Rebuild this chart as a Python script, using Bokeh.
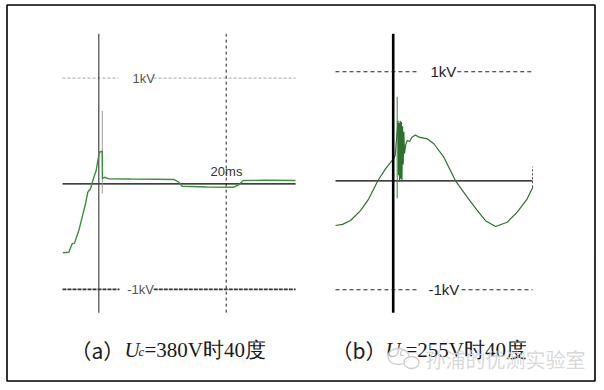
from bokeh.plotting import figure
from bokeh.models import Range1d
from bokeh.core.properties import value
from bokeh.embed import file_html
from bokeh.resources import INLINE

# ---------------- data (time in ms, voltage in kV) ----------------
# panel (a): Uc = 380 V, 40 deg
a_t = [-5.65, -4.71, -4.18, -3.81, -3.14, -2.61, -2.09, -1.73, -1.30, -0.78,
       -0.41, -0.16, 0.11, 0.53, 0.58, 0.89, 1.57, 5.0, 9.0, 11.77, 12.56,
       13.09, 17.0, 21.19, 21.98, 22.67, 26.0, 30.88]
a_v = [-0.653, -0.648, -0.568, -0.562, -0.442, -0.316, -0.189, -0.080, -0.047, 0.062,
       0.126, 0.220, 0.299, 0.309, 0.050, 0.062, 0.047, 0.045, 0.043, 0.041, 0.015,
       -0.023, -0.030, -0.032, -0.009, 0.031, 0.033, 0.031]
a_spike_t = [0.55, 0.55]
a_spike_v = [-0.09, 0.69]

# panel (b): Uc = 255 V, 40 deg
b_t = [-7.40, -6.5, -5.47, -4.19, -3.13, -1.97, -0.99, 0.0, 0.25, 0.62, 0.68,
       0.75, 0.82, 0.90, 0.98, 1.05, 1.12, 1.20, 1.28, 1.36, 1.45, 1.60, 1.79,
       2.10, 2.40, 2.86, 3.30, 4.36, 5.21, 6.49, 7.99, 9.49, 10.77, 11.83,
       13.12, 14.62, 15.90, 17.18, 17.90]
b_v = [-0.41, -0.40, -0.364, -0.273, -0.165, 0.0, 0.11, 0.20, 0.23, 0.55, 0.05,
       0.53, -0.01, 0.55, 0.02, 0.54, 0.0, 0.50, 0.15, 0.45, 0.25, 0.33, 0.37,
       0.36, 0.40, 0.42, 0.40, 0.385, 0.34, 0.217, 0.0, -0.15, -0.272, -0.366,
       -0.419, -0.38, -0.288, -0.165, -0.059]
b_spike_t = [0.51, 0.51]
b_spike_v = [-0.16, 0.77]

ref_levels = [1.0, -1.0]
ref_labels = ["1kV", "-1kV"]
a_marker_ms = 20.0
a_marker_label = "20ms"
b_cursor_ms = 17.86
b_cursor_v = [-0.06, 0.13]

caption_a = ["（a）", "U", "c", "=380V时40度"]
caption_b = ["（b）", "U", "c", "=255V时40度"]
watermark = "孙浦的优测实验室"

# ---------------- layout ----------------
W, H, OFF = 604, 390, 0
p = figure(width=W, height=H, output_backend="svg", toolbar_location=None,
           x_range=Range1d(OFF, OFF + W), y_range=Range1d(OFF + H, OFF),
           x_axis_location=None, y_axis_location=None, min_border=0)
p.grid.visible = False
p.outline_line_color = None
p.background_fill_color = "white"
p.border_fill_color = "white"


def add_panel(name, x0, px_ms, y0, px_kv):
    p.extra_x_ranges["t" + name] = Range1d((OFF - x0) / px_ms, (OFF + W - x0) / px_ms)
    p.extra_y_ranges["v" + name] = Range1d((y0 - (OFF + H)) / px_kv, (y0 - OFF) / px_kv)
    return dict(x_range_name="t" + name, y_range_name="v" + name)


A = add_panel("a", 98.3, 6.37, 183.3, 105.6)
B = add_panel("b", 392.7, 7.8, 180.3, 109.0)

a_win = (-5.7, 30.9)
b_win = (-7.4, 17.86)
a_vext = [-1.22, 1.42]
b_vext = [-1.21, 1.35]

# ---- panel a ----
a_gaps = [(3.09, 8.59), (3.25, 8.63)]
a_label_x = [5.29, 4.46]
a_ref_style = [dict(line_color="#b8b8b8", line_dash="3 2", line_width=1.2),
               dict(line_color="#333333", line_dash="4 1", line_width=1.8)]
for lvl, (g0, g1), st in zip(ref_levels, a_gaps, a_ref_style):
    p.multi_line(xs=[[a_win[0], g0], [g1, a_win[1]]], ys=[[lvl, lvl], [lvl, lvl]], **st, **A)
p.text(x=a_label_x, y=ref_levels, text=ref_labels, text_font=value("Liberation Sans"),
       text_font_size="13px", text_baseline="middle", text_align="left",
       text_color="#555555", **A)
p.line([a_marker_ms, a_marker_ms], a_vext, line_color="#222222", line_dash="3 3", line_width=1, **A)
p.text(x=[a_marker_ms - 2.45], y=[0.116], text=[a_marker_label], text_font=value("Liberation Sans"),
       text_font_size="13px", text_baseline="middle", text_align="left", text_color="#333333", **A)
p.line(list(a_win), [0, 0], line_color="black", line_width=1.3, **A)
p.line([0, 0], a_vext, line_color="#444444", line_width=1.2, **A)
p.line(a_spike_t, a_spike_v, line_color="#9a9a9a", line_width=1, **A)
p.line(a_t, a_v, line_color="#3d8f3d", line_width=1.4, **A)

# ---- panel b ----
b_gaps = [(3.08, 8.21), (3.08, 8.76)]
b_label_x = [4.78, 4.53]
for lvl, (g0, g1) in zip(ref_levels, b_gaps):
    p.multi_line(xs=[[b_win[0], g0], [g1, b_win[1]]], ys=[[lvl, lvl], [lvl, lvl]],
                 line_color="#222222", line_dash="4 3", line_width=1.1, **B)
p.text(x=b_label_x, y=ref_levels, text=ref_labels, text_font=value("Liberation Sans"),
       text_font_size="15px", text_baseline="middle", text_align="left",
       text_color="#222222", **B)
p.line(list(b_win), [0, 0], line_color="black", line_width=1.3, **B)
p.line([b_cursor_ms, b_cursor_ms], b_cursor_v, line_color="#444444", line_dash="2 2", line_width=1, **B)
p.line(b_spike_t, b_spike_v, line_color="#2a8a2a", line_width=1, **B)
p.line(b_t, b_v, line_color="#2f6f2f", line_width=1.2, **B)
p.line([0, 0], b_vext, line_color="black", line_width=2.6, **B)

# ---- captions ----
CAP_Y = 349
for cap, x_par, x_u in ((caption_a, 70, 124), (caption_b, 331, 385)):
    p.text(x=[x_par], y=[CAP_Y], text=[cap[0]], text_font=value("Noto Sans CJK SC"),
           text_font_size="21px", text_baseline="alphabetic", text_color="#1a1a1a")
    p.text(x=[x_u], y=[CAP_Y], text=[cap[1]], text_font=value("Liberation Serif"),
           text_font_style="italic", text_font_size="21px", text_baseline="alphabetic",
           text_color="#1a1a1a")
    p.text(x=[x_u + 14], y=[CAP_Y + 2], text=[cap[2]], text_font=value("Liberation Serif"),
           text_font_style="italic", text_font_size="13px", text_baseline="alphabetic",
           text_color="#1a1a1a")
    p.text(x=[x_u + 20], y=[CAP_Y], text=[cap[3]], text_font=value("Liberation Serif"),
           text_font_size="21px", text_baseline="alphabetic", text_color="#1a1a1a")

# ---- watermark ----
p.ellipse(x=[398, 411], y=[356, 362], width=[21, 15], height=[16, 12],
          fill_color="white", fill_alpha=0.7, line_color="#cccccc", line_width=1.3)
p.text(x=[425], y=[359], text=[watermark], text_font=value("Noto Sans CJK SC"),
       text_font_size="20px", text_baseline="middle", text_align="left",
       text_color="#d6d6d6", text_alpha=0.95)

# ---- outer border ----
p.quad(left=[6.5], right=[594.5], top=[4.5], bottom=[380.5], fill_color=None,
       line_color="black", line_width=1.6)

open("out.html", "w").write(file_html(p, INLINE))
